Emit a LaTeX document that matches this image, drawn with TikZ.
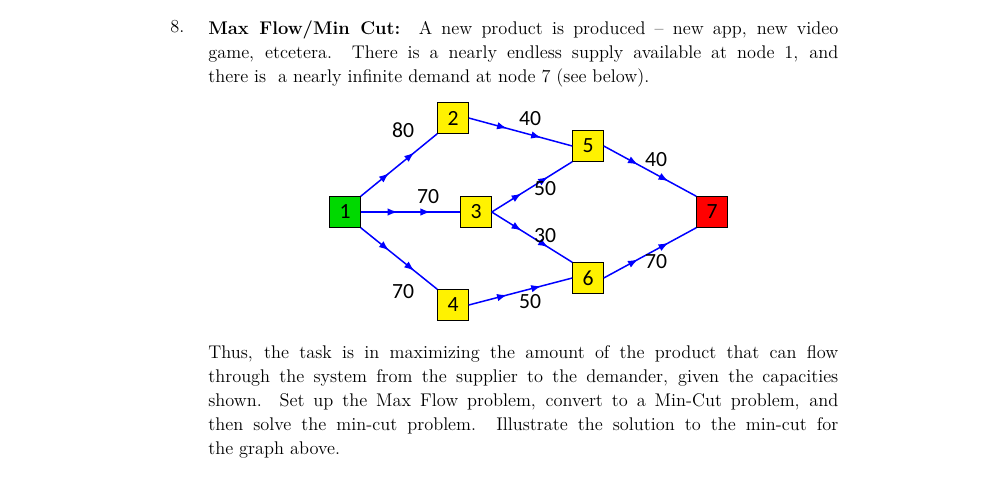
\documentclass[tikz,border=0pt]{standalone}
\usepackage{fontspec}
\newfontfamily\gfont{Carlito}
\usetikzlibrary{decorations.markings,arrows.meta}
\begin{document}
\begin{tikzpicture}[x=0.6pt,y=-0.6pt,
  nd/.style={draw=black,minimum size=18.5pt,inner sep=0pt,font=\gfont\fontsize{13}{13}\selectfont},
  lab/.style={font=\gfont\fontsize{13}{13}\selectfont,inner sep=0pt},
  ed/.style={blue,line width=0.9pt,postaction={decorate},decoration={markings,
    mark=at position 0.37 with {\arrow{Latex[length=6pt,width=4.5pt]}},
    mark=at position 0.7 with {\arrow{Latex[length=6pt,width=4.5pt]}}}},
  para/.style={anchor=north west,text width=378pt,align=justify,inner sep=0pt,font=\fontsize{11}{14.4}\selectfont}]
\useasboundingbox (0,0) rectangle (1000,493);
\node[anchor=north west,inner sep=0pt,font=\fontsize{11}{14.4}\selectfont] (num) at (170,20) {8.};
\node[para] (p1) at (208,20) {\textbf{Max Flow/Min Cut:}\ \ A new product is produced -- new app, new video\linebreak game, etcetera.\ \ There is a nearly endless supply available at node 1, and\linebreak there is\ \ a nearly infinite demand at node 7 (see below).};
\node[para] (p2) at (208,345) {Thus, the task is in maximizing the amount of the product that can flow\linebreak through the system from the supplier to the demander, given the capacities\linebreak shown.\ \ Set up the Max Flow problem, convert to a Min-Cut problem, and\linebreak then solve the min-cut problem.\ \ Illustrate the solution to the min-cut for\linebreak the graph above.};
\node[nd,fill=green!85!black] (n1) at (345,212) {1};
\node[nd,fill=yellow] (n2) at (453,118) {2};
\node[nd,fill=yellow] (n3) at (476,212) {3};
\node[nd,fill=yellow] (n4) at (453,305) {4};
\node[nd,fill=yellow] (n5) at (588,146) {5};
\node[nd,fill=yellow] (n6) at (588,278) {6};
\node[nd,fill=red] (n7) at (712,212) {7};
\draw[ed] (n1.north east) -- (n2.south west);
\draw[ed] (n1) -- (n3);
\draw[ed] (n1.south east) -- (n4.north west);
\draw[ed] (n2.east) -- (n5.west);
\draw[ed] (n3.east) -- (n5.south west);
\draw[ed] (n3.east) -- (n6.north west);
\draw[ed] (n4.east) -- (n6.west);
\draw[ed] (n5.east) -- (n7.north west);
\draw[ed] (n6.east) -- (n7.south west);
\node[lab] (l12) at (403,130) {80};
\node[lab] (l25) at (530,119) {40};
\node[lab] (l13) at (428,197) {70};
\node[lab] (l35) at (545,189) {50};
\node[lab] (l36) at (545,236) {30};
\node[lab] (l14) at (403,292) {70};
\node[lab] (l46) at (530,302) {50};
\node[lab] (l57) at (656,160) {40};
\node[lab] (l67) at (656,262) {70};
\end{tikzpicture}
\end{document}
